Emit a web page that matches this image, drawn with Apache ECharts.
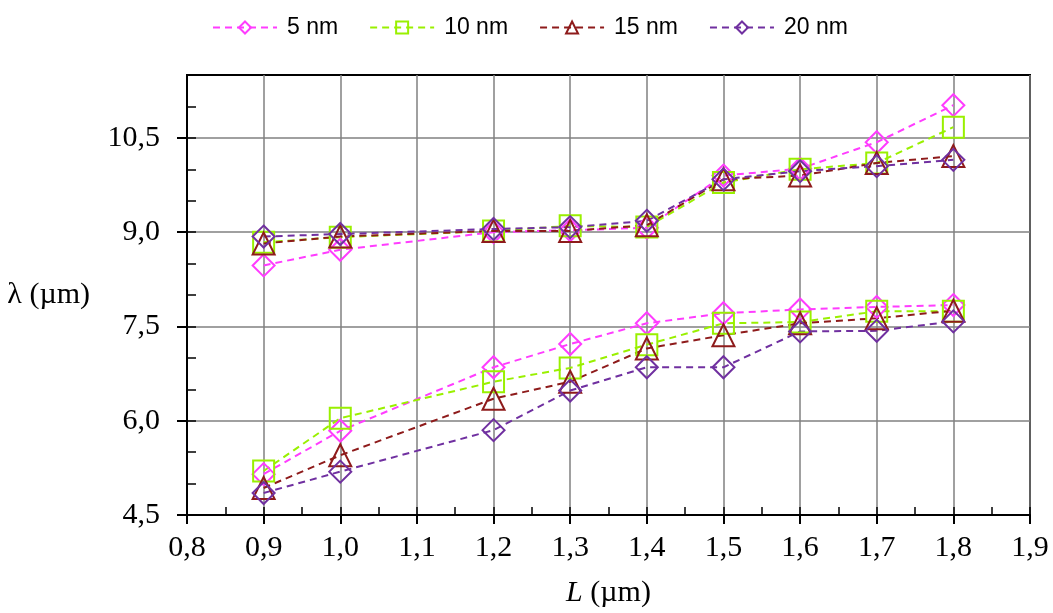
<!DOCTYPE html>
<html>
<head>
<meta charset="utf-8">
<script src="https://cdn.jsdelivr.net/npm/echarts@6/dist/echarts.min.js"></script>
<style>
  html, body { margin: 0; padding: 0; background: #fff; }
  #chart { width: 1053px; height: 613px; }
</style>
</head>
<body>
<div id="chart"></div>
<script>
// Gate length L (µm) at which each resonance was computed
const lengths = [0.9, 1.0, 1.2, 1.3, 1.4, 1.5, 1.6, 1.7, 1.8];

// Upper resonance branch, λ (µm)
const upper5  = [8.47, 8.72, 9.00, 9.03, 9.07, 9.90, 10.01, 10.43, 11.02];
const upper10 = [8.84, 8.92, 9.02, 9.10, 9.08, 9.79, 10.00, 10.10, 10.67];
const upper15 = [8.82, 8.93, 9.02, 9.02, 9.11, 9.84, 9.90, 10.10, 10.21];
const upper20 = [8.93, 8.97, 9.05, 9.08, 9.18, 9.84, 9.97, 10.05, 10.15];

// Lower resonance branch, λ (µm)
const lower5  = [5.15, 5.84, 6.85, 7.22, 7.55, 7.71, 7.77, 7.81, 7.84];
const lower10 = [5.20, 6.04, 6.62, 6.84, 7.21, 7.55, 7.57, 7.74, 7.74];
const lower15 = [4.93, 5.45, 6.35, 6.62, 7.15, 7.36, 7.55, 7.63, 7.75];
const lower20 = [4.85, 5.19, 5.85, 6.48, 6.85, 6.85, 7.42, 7.43, 7.58];

// Series names and tick label values
const seriesNames = ['5 nm', '10 nm', '15 nm', '20 nm'];
const xTicks = [0.8, 0.9, 1.0, 1.1, 1.2, 1.3, 1.4, 1.5, 1.6, 1.7, 1.8, 1.9];
const yTicks = [4.5, 6.0, 7.5, 9.0, 10.5];

const colors = ['#ff3cff', '#99f000', '#8e1b1b', '#7030a0'];
const symbols = ['diamond', 'rect', 'triangle', 'diamond'];
const upperSets = [upper5, upper10, upper15, upper20];
const lowerSets = [lower5, lower10, lower15, lower20];

const serif = 'Liberation Serif';
const commaFmt = v => Number(v).toFixed(1).replace('.', ',');

function pairs(ys) {
  return lengths.map((x, i) => [x, ys[i]]);
}

function makeSeries(i, ys) {
  return {
    name: seriesNames[i],
    type: 'line',
    xAxisIndex: 0,
    yAxisIndex: 0,
    data: pairs(ys),
    symbol: symbols[i],
    symbolSize: symbols[i] === 'rect' ? 21 : 22,
    color: colors[i],
    lineStyle: { color: colors[i], width: 2, type: [7, 5] },
    itemStyle: { color: 'transparent', borderColor: colors[i], borderWidth: 2 },
    emphasis: { disabled: true },
    clip: false
  };
}

const series = [];
for (let i = 0; i < seriesNames.length; i++) {
  series.push(makeSeries(i, upperSets[i]));
  series.push(makeSeries(i, lowerSets[i]));
}

const chart = echarts.init(document.getElementById('chart'), null, { renderer: 'canvas' });
chart.setOption({
  animation: false,
  backgroundColor: '#fff',
  legend: {
    data: seriesNames,
    top: 11,
    left: 207,
    itemWidth: 64,
    itemHeight: 15,
    itemGap: 31,
    textStyle: { fontFamily: 'Liberation Sans', fontSize: 23, color: '#000', padding: [0, 0, 0, 5] }
  },
  grid: {
    left: 187, right: 23, top: 75, bottom: 98,
    show: true, borderColor: '#000', borderWidth: 2, backgroundColor: 'transparent'
  },
  xAxis: [
    {
      type: 'value', min: 0.8, max: 1.9, interval: 0.1, position: 'bottom',
      name: '{i|L} (µm)', nameLocation: 'middle', nameGap: 63,
      nameTextStyle: {
        fontFamily: serif, fontSize: 30, color: '#000',
        rich: { i: { fontFamily: serif, fontSize: 30, fontStyle: 'italic', color: '#000' } }
      },
      axisLine: { show: true, lineStyle: { color: '#000', width: 2 } },
      axisTick: { show: true, inside: false, length: 9, lineStyle: { color: '#000', width: 2 }, customValues: xTicks },
      axisLabel: { show: true, margin: 18, fontFamily: serif, fontSize: 30, color: '#000', formatter: commaFmt, customValues: xTicks },
      splitLine: { show: true, lineStyle: { color: '#808080', width: 1.5 } }
    },
    {
      // minor ticks pointing into the plot
      type: 'value', min: 0.8, max: 1.9, interval: 0.05, position: 'bottom',
      axisLine: { show: false },
      axisTick: { show: true, inside: true, length: 8, lineStyle: { color: '#000', width: 1.5 } },
      axisLabel: { show: false },
      splitLine: { show: false }
    }
  ],
  yAxis: [
    {
      type: 'value', min: 4.5, max: 11.5, interval: 1.5, position: 'left',
      name: 'λ (µm)', nameLocation: 'middle', nameRotate: 0, nameGap: 97,
      nameTextStyle: { fontFamily: serif, fontSize: 30, color: '#000' },
      axisLine: { show: true, lineStyle: { color: '#000', width: 2 } },
      axisTick: { show: true, inside: false, length: 10, lineStyle: { color: '#000', width: 2 }, customValues: yTicks },
      axisLabel: { show: true, margin: 27, fontFamily: serif, fontSize: 30, color: '#000', formatter: commaFmt, customValues: yTicks },
      splitLine: { show: true, lineStyle: { color: '#808080', width: 1.5 } }
    },
    {
      type: 'value', min: 4.5, max: 11.5, interval: 0.5, position: 'left',
      axisLine: { show: false },
      axisTick: { show: true, inside: true, length: 9, lineStyle: { color: '#000', width: 1.5 } },
      axisLabel: { show: false },
      splitLine: { show: false }
    }
  ],
  series: series
});
</script>
</body>
</html>
